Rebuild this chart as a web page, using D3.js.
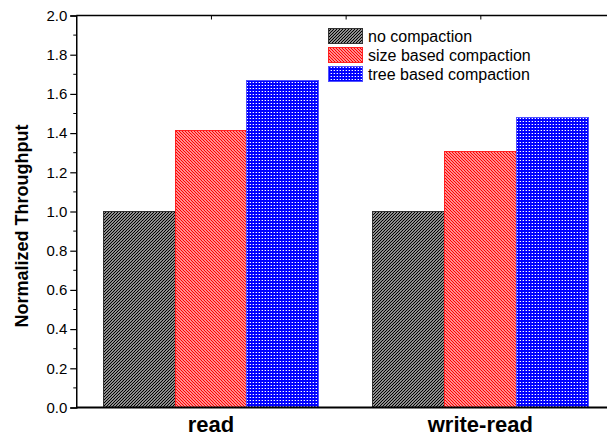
<!DOCTYPE html>
<html><head><meta charset="utf-8">
<script src="https://cdn.jsdelivr.net/npm/d3@7"></script>
<style>body{margin:0;background:#fff}svg{display:block}</style>
</head><body>
<svg id="c" width="607" height="436"></svg>
<script>
const categories = ["read", "write-read"];
const seriesNames = ["no compaction", "size based compaction", "tree based compaction"];
const noCompaction = [1.0, 1.0];
const sizeBased = [1.412, 1.305];
const treeBased = [1.666, 1.48];
const yTicks = [0, 0.2, 0.4, 0.6, 0.8, 1.0, 1.2, 1.4, 1.6, 1.8, 2.0];
const series = [noCompaction, sizeBased, treeBased];

const svg = d3.select("#c");
const defs = svg.append("defs");
const FONT = "Liberation Sans, Arial, sans-serif";

// patterns
const p1 = defs.append("pattern").attr("id","pBlack").attr("patternUnits","userSpaceOnUse")
  .attr("width",3).attr("height",3);
p1.append("rect").attr("width",3).attr("height",3).attr("fill","#fff");
p1.append("path").attr("d","M-1,1 L1,-1 M0,3 L3,0 M2,4 L4,2").attr("stroke","#000").attr("stroke-width",1.3);

const p2 = defs.append("pattern").attr("id","pRed").attr("patternUnits","userSpaceOnUse")
  .attr("width",3).attr("height",3);
p2.append("rect").attr("width",3).attr("height",3).attr("fill","#fff");
p2.append("path").attr("d","M-1,2 L1,4 M0,0 L3,3 M2,-1 L4,1").attr("stroke","#ff0000").attr("stroke-width",1.3);

const p3 = defs.append("pattern").attr("id","pBlue").attr("patternUnits","userSpaceOnUse")
  .attr("width",3).attr("height",3);
p3.append("rect").attr("width",3).attr("height",3).attr("fill","#0000ff");
p3.append("rect").attr("x",1).attr("y",1).attr("width",1).attr("height",1).attr("fill","#fff");
p3.append("rect").attr("x",0).attr("y",1).attr("width",1).attr("height",1).attr("fill","#6060ff");

const fills = ["url(#pBlack)", "url(#pRed)", "url(#pBlue)"];
const strokes = ["#333", "#ff2020", "#5050ff"];

const x = d3.scaleLinear().domain([0.5, 2.5]).range([76.25, 615]);
const y = d3.scaleLinear().domain([0, 2]).range([407.5, 15.5]);
const bw = 0.8 / 3;

// bars
series.forEach((vals, si) => {
  svg.append("g").selectAll("rect").data(vals).join("rect")
    .attr("x", (d, i) => x(i + 1 - 0.4 + si * bw))
    .attr("width", x(bw) - x(0))
    .attr("y", d => y(d))
    .attr("height", d => y(0) - y(d))
    .attr("fill", fills[si])
    .attr("stroke", strokes[si]).attr("stroke-width", 1)
    .attr("shape-rendering","crispEdges");
});

// left axis
const yAxis = d3.axisLeft(y).tickValues(yTicks).tickFormat(d3.format(".1f")).tickSize(6).tickPadding(3);
const gy = svg.append("g").attr("transform", `translate(${x(0.5)},0)`).call(yAxis);
gy.select(".domain").attr("stroke","#000").attr("stroke-width",1.5);
gy.selectAll(".tick line").attr("stroke","#000").attr("stroke-width",1.2);
gy.selectAll(".tick text").attr("font-family",FONT).attr("font-size",15).attr("fill","#000");
// minor ticks
const minor = d3.range(0.1, 2.0, 0.2);
svg.append("g").selectAll("line").data(minor).join("line")
  .attr("x1", x(0.5) - 3).attr("x2", x(0.5))
  .attr("y1", d => y(d)).attr("y2", d => y(d))
  .attr("stroke","#000").attr("stroke-width",1);

// bottom axis line
svg.append("line").attr("x1", x(0.5)).attr("x2", x(2.5)).attr("y1", y(0)).attr("y2", y(0))
  .attr("stroke","#000").attr("stroke-width",2);
// top axis line
const topAxis = d3.axisBottom(x).tickValues([1, 1.5, 2]).tickSize(4).tickFormat("");
const gt = svg.append("g").attr("transform", `translate(0,${y(2)})`).call(topAxis);
gt.select(".domain").attr("stroke","#000").attr("stroke-width",1.5).attr("d", `M${x(0.5)},0H${x(2.5)}`);
gt.selectAll(".tick line").attr("stroke","#000");

// category labels
svg.append("g").selectAll("text").data(categories).join("text")
  .attr("x", (d, i) => x(i + 1)).attr("y", 432)
  .attr("text-anchor","middle")
  .attr("font-family",FONT).attr("font-weight","bold").attr("font-size",22)
  .text(d => d);

// y label
svg.append("text").attr("transform", `translate(28,226) rotate(-90)`)
  .attr("text-anchor","middle")
  .attr("font-family",FONT).attr("font-weight","bold").attr("font-size",18)
  .text("Normalized Throughput");

// legend
const lg = svg.append("g");
seriesNames.forEach((name, i) => {
  const yy = 28 + i * 19;
  lg.append("rect").attr("x", 328.5).attr("y", yy + 0.5).attr("width", 34).attr("height", 15)
    .attr("fill", fills[i]).attr("stroke", strokes[i]).attr("stroke-width", 1);
  lg.append("text").attr("x", 368).attr("y", yy + 13.5)
    .attr("font-family",FONT).attr("font-size",16)
    .text(name);
});
</script>
</body></html>
